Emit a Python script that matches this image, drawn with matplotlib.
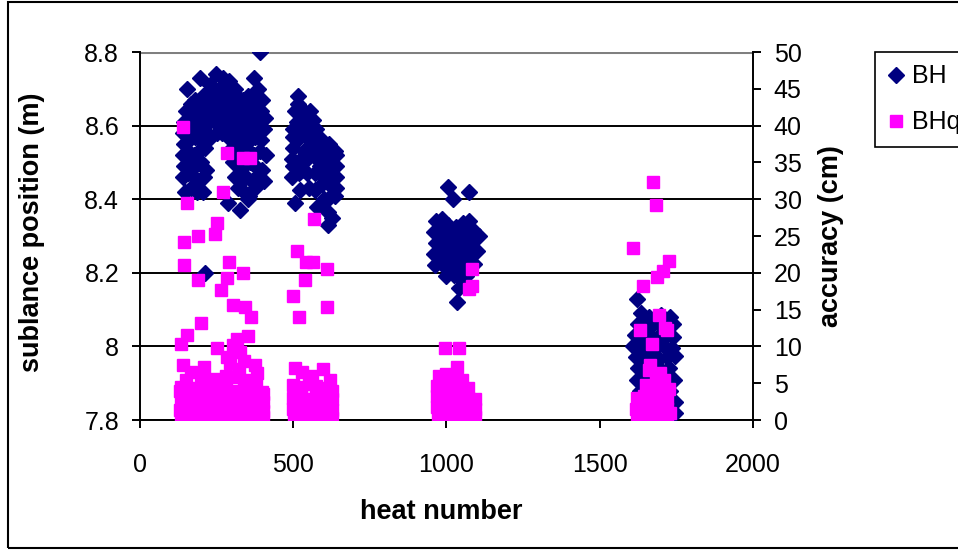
import numpy as np
import matplotlib
matplotlib.use("Agg")
import matplotlib.pyplot as plt
from matplotlib.patches import Rectangle

plt.rcParams['font.family'] = ['Liberation Sans', 'DejaVu Sans']

# BH: sublance position (m) per heat number
bh_group1 = [(392, 8.80), (195, 8.73), (249, 8.74), (152, 8.70), (371, 8.73), (384, 8.70), (290, 8.72), (270, 8.73),
             (230, 8.71), (310, 8.70), (205, 8.68), (222, 8.69), (240, 8.70), (258, 8.70), (280, 8.71), (300, 8.69),
             (318, 8.68), (335, 8.67), (352, 8.68), (368, 8.67), (200, 8.65), (218, 8.66), (236, 8.67), (254, 8.67),
             (272, 8.68), (290, 8.67), (308, 8.66), (326, 8.65), (344, 8.64), (362, 8.65), (380, 8.66), (398, 8.67),
             (165, 8.66), (180, 8.67), (150, 8.64), (145, 8.61), (162, 8.62), (178, 8.63), (196, 8.62), (214, 8.63),
             (232, 8.64), (250, 8.64), (268, 8.65), (286, 8.64), (304, 8.63), (322, 8.62), (340, 8.61), (358, 8.62),
             (376, 8.63), (394, 8.64), (408, 8.62), (140, 8.58), (156, 8.59), (172, 8.60), (190, 8.59), (208, 8.60),
             (226, 8.61), (244, 8.61), (262, 8.62), (280, 8.61), (298, 8.60), (316, 8.59), (334, 8.58), (352, 8.59),
             (370, 8.60), (388, 8.61), (405, 8.59), (142, 8.55), (160, 8.56), (178, 8.57), (196, 8.56), (214, 8.57),
             (232, 8.57), (250, 8.58), (268, 8.58), (286, 8.57), (304, 8.57), (322, 8.56), (340, 8.55), (358, 8.56),
             (376, 8.57), (396, 8.56), (140, 8.52), (158, 8.53), (176, 8.52), (194, 8.53), (212, 8.54), (300, 8.54),
             (318, 8.53), (336, 8.52), (354, 8.53), (372, 8.52), (392, 8.53), (410, 8.52), (145, 8.49), (163, 8.50),
             (181, 8.49), (199, 8.50), (214, 8.48), (305, 8.50), (322, 8.49), (340, 8.49), (358, 8.50), (376, 8.49),
             (398, 8.48), (140, 8.46), (158, 8.47), (176, 8.46), (194, 8.45), (210, 8.46), (310, 8.46), (328, 8.45),
             (346, 8.46), (364, 8.45), (382, 8.46), (404, 8.45), (146, 8.42), (168, 8.43), (186, 8.42), (204, 8.42),
             (320, 8.43), (338, 8.42), (356, 8.41), (374, 8.43), (286, 8.39), (325, 8.37), (352, 8.40), (212, 8.20)]
bh_group2 = [(516, 8.68), (517, 8.66), (505, 8.64), (530, 8.645), (554, 8.64), (565, 8.615), (511, 8.61), (540, 8.62),
             (498, 8.59), (525, 8.595), (550, 8.60), (575, 8.59), (500, 8.57), (520, 8.565), (545, 8.57), (572, 8.57),
             (595, 8.56), (618, 8.55), (500, 8.54), (534, 8.53), (560, 8.54), (585, 8.535), (609, 8.543), (635, 8.53),
             (495, 8.51), (515, 8.50), (545, 8.51), (570, 8.515), (595, 8.51), (620, 8.51), (641, 8.52), (500, 8.49),
             (530, 8.48), (587, 8.49), (610, 8.49), (630, 8.49), (641, 8.49), (495, 8.46), (520, 8.47), (544, 8.47),
             (570, 8.47), (590, 8.465), (609, 8.46), (630, 8.46), (641, 8.46), (522, 8.425), (550, 8.43), (572, 8.425),
             (595, 8.44), (618, 8.44), (638, 8.43), (506, 8.39), (576, 8.38), (600, 8.40), (620, 8.405), (635, 8.41),
             (614, 8.366), (625, 8.35), (614, 8.33)]
bh_group3 = [(1006, 8.433), (1074, 8.42), (1022, 8.40), (965, 8.34), (985, 8.345), (1005, 8.33), (1030, 8.325),
             (1055, 8.335), (1075, 8.34), (960, 8.31), (980, 8.32), (1000, 8.30), (1020, 8.31), (1040, 8.305),
             (1060, 8.30), (1085, 8.315), (1105, 8.30), (965, 8.28), (985, 8.285), (1005, 8.27), (1025, 8.28),
             (1045, 8.275), (1068, 8.28), (1090, 8.29), (1100, 8.26), (958, 8.25), (978, 8.255), (998, 8.24),
             (1018, 8.25), (1038, 8.245), (1060, 8.25), (1082, 8.255), (962, 8.22), (985, 8.225), (1005, 8.21),
             (1028, 8.22), (1048, 8.215), (1070, 8.22), (1090, 8.225), (1000, 8.19), (1025, 8.195), (1045, 8.185),
             (1065, 8.19), (1040, 8.16), (1060, 8.17), (1033, 8.12)]
bh_group4 = [(1622, 8.13), (1635, 8.09), (1660, 8.08), (1700, 8.085), (1729, 8.08), (1625, 8.06), (1650, 8.065),
             (1675, 8.06), (1700, 8.055), (1722, 8.05), (1740, 8.06), (1615, 8.03), (1640, 8.035), (1665, 8.03),
             (1690, 8.025), (1715, 8.03), (1738, 8.025), (1610, 8.00), (1635, 8.005), (1660, 8.00), (1685, 7.995),
             (1710, 8.00), (1735, 7.995), (1618, 7.97), (1642, 7.975), (1668, 7.97), (1692, 7.965), (1718, 7.97),
             (1745, 7.975), (1625, 7.94), (1650, 7.945), (1675, 7.94), (1700, 7.935), (1725, 7.94), (1620, 7.91),
             (1645, 7.915), (1670, 7.91), (1695, 7.905), (1720, 7.91), (1742, 7.91), (1630, 7.88), (1655, 7.885),
             (1680, 7.88), (1705, 7.875), (1730, 7.88), (1640, 7.85), (1690, 7.85), (1746, 7.85), (1746, 7.82),
             (1720, 7.83)]

# BHq: accuracy (cm) per heat number
bhq_group1 = [(139, 39.8), (283, 36.3), (336, 35.6), (359, 35.6), (270, 31.0), (152, 29.5), (250, 26.8), (245, 25.3),
              (190, 25.0), (144, 24.2), (144, 21.1), (190, 19.0), (291, 21.4), (337, 20.0), (285, 19.3), (264, 17.7),
              (304, 15.6), (343, 15.4), (362, 14.0), (198, 13.2), (152, 11.5), (133, 10.3), (353, 11.4), (317, 11.0),
              (304, 10.2), (250, 9.8), (283, 8.6), (326, 9.3), (295, 7.8), (340, 8.0), (139, 7.5), (209, 7.2),
              (165, 6.5), (375, 7.5), (381, 6.4), (322, 6.9), (133, 4.5), (397, 3.8),
              (150, 5.5), (200, 5.8), (240, 5.6), (280, 6.0), (315, 5.8), (350, 5.5), (380, 5.2),
              (130, 4.0), (160, 4.3), (190, 4.2), (220, 4.4), (250, 4.1), (280, 4.3), (310, 4.0), (340, 4.4),
              (370, 4.1), (400, 3.5), (135, 2.8), (165, 2.6), (195, 2.9), (225, 2.7), (255, 3.0), (285, 2.8),
              (315, 2.7), (345, 2.9), (375, 2.6), (402, 2.5), (130, 1.4), (160, 1.5), (190, 1.3), (220, 1.6),
              (250, 1.4), (280, 1.5), (310, 1.3), (340, 1.6), (370, 1.4), (400, 1.2), (135, 0.4), (165, 0.5),
              (195, 0.3), (225, 0.5), (255, 0.4), (285, 0.3), (315, 0.5), (345, 0.4), (375, 0.3), (402, 0.4)]
bhq_group2 = [(511, 23.0), (543, 21.4), (565, 21.4), (609, 20.5), (538, 19.0), (498, 16.8), (609, 15.4), (519, 14.0),
              (569, 27.3), (506, 7.1), (597, 6.9), (530, 6.5), (560, 6.0), (620, 5.5), (500, 4.8), (525, 4.5),
              (550, 4.9), (575, 4.6), (600, 4.4), (625, 4.0), (500, 3.0), (525, 3.2), (550, 2.9), (575, 3.1),
              (600, 3.0), (625, 2.8), (500, 1.5), (525, 1.7), (550, 1.4), (575, 1.6), (600, 1.5), (625, 1.3),
              (502, 0.4), (527, 0.5), (552, 0.3), (577, 0.5), (602, 0.4), (627, 0.3)]
bhq_group3 = [(1083, 20.5), (1083, 18.2), (1075, 17.8), (995, 9.8), (1041, 9.8), (1035, 7.2), (975, 6.0), (1000, 6.2),
              (1025, 5.8), (1050, 5.5), (970, 4.6), (995, 4.8), (1020, 4.5), (1045, 4.7), (1070, 4.3), (970, 3.2),
              (995, 3.0), (1020, 3.3), (1045, 3.1), (1070, 3.0), (1092, 2.8), (970, 1.7), (995, 1.6), (1020, 1.8),
              (1045, 1.5), (1070, 1.7), (1092, 1.5), (972, 0.4), (997, 0.5), (1022, 0.3), (1047, 0.5), (1072, 0.4),
              (1092, 0.4)]
bhq_group4 = [(1608, 23.4), (1675, 32.4), (1682, 29.2), (1727, 21.6), (1707, 20.2), (1688, 19.4), (1642, 18.2),
              (1694, 14.3), (1631, 12.2), (1713, 12.5), (1718, 12.2), (1669, 10.3), (1664, 7.5), (1697, 6.4),
              (1660, 6.8), (1685, 6.0), (1710, 5.5), (1650, 4.8), (1675, 4.5), (1700, 4.9), (1725, 4.2),
              (1620, 3.0), (1645, 3.2), (1670, 2.9), (1695, 3.1), (1720, 3.0), (1618, 1.5), (1643, 1.7),
              (1668, 1.4), (1693, 1.6), (1718, 1.5), (1728, 1.0), (1620, 0.4), (1645, 0.5), (1670, 0.3),
              (1695, 0.5), (1720, 0.4)]

left_ticks = [7.8, 8.0, 8.2, 8.4, 8.6, 8.8]
left_labels = ['7.8', '8', '8.2', '8.4', '8.6', '8.8']
right_ticks = [0, 5, 10, 15, 20, 25, 30, 35, 40, 45, 50]
x_ticks = [0, 500, 1000, 1500, 2000]

bh = np.array(bh_group1 + bh_group2 + bh_group3 + bh_group4)
bhq = np.array(bhq_group1 + bhq_group2 + bhq_group3 + bhq_group4)

W, H = 958, 550
fig = plt.figure(figsize=(W / 100, H / 100), dpi=100)
ax = fig.add_axes([140 / W, 1 - 420 / H, 613 / W, 368 / H])
ax2 = ax.twinx()

navy = '#000080'
pink = '#FF00FF'
fs = 18
lfs = 19.5

ax.plot(bh[:, 0], bh[:, 1], linestyle='none', marker='D', ms=8, color=navy, mec=navy, label='BH', zorder=3)
ax2.plot(bhq[:, 0], bhq[:, 1], linestyle='none', marker='s', ms=8.3, color=pink, mec=pink, label='BHq')

ax.set_xlim(0, 2000)
ax.set_ylim(7.8, 8.8)
ax2.set_ylim(0, 50)
ax.set_xticks(x_ticks)
ax.set_yticks(left_ticks)
ax.set_yticklabels(left_labels)
ax2.set_yticks(right_ticks)

ax.set_axisbelow(True)
ax.yaxis.grid(True, color='black', lw=1.4)
for s in ['top', 'right']:
    ax.spines[s].set_visible(False)
for s in ['top', 'left', 'bottom']:
    ax2.spines[s].set_visible(False)
ax.axhline(8.8, color='#808080', lw=2.2, zorder=1)
for sp in [ax.spines['left'], ax.spines['bottom'], ax2.spines['right']]:
    sp.set_linewidth(1.4)

ax.tick_params(axis='y', labelsize=fs, length=6, width=1.4, direction='out', pad=9)
ax.tick_params(axis='x', labelsize=fs, length=6, width=1.4, direction='out', pad=18)
ax2.tick_params(axis='y', labelsize=fs, length=6, width=1.4, direction='out', pad=9)

ax.set_xlabel('heat number', fontsize=lfs, fontweight='bold')
ax.set_ylabel('sublance position (m)', fontsize=lfs, fontweight='bold', va='center')
ax2.set_ylabel('accuracy (cm)', fontsize=lfs, fontweight='bold', va='center', rotation=90)
ax.yaxis.set_label_coords(-0.176, 0.51)
ax2.yaxis.set_label_coords(1.128, 0.5)
ax.xaxis.set_label_coords(0.492, -0.215)

h1, l1 = ax.get_legend_handles_labels()
h2, l2 = ax2.get_legend_handles_labels()
leg = fig.legend(h1 + h2, l1 + l2, loc='upper left', bbox_to_anchor=(875 / W, 1 - 52 / H),
                 fontsize=fs, frameon=True, fancybox=False, edgecolor='black', framealpha=1,
                 borderaxespad=0, handlelength=0.7, handletextpad=0.3, labelspacing=0.88, borderpad=0.5)
leg.get_frame().set_linewidth(1.2)

fig.patches.append(Rectangle((8 / W, 2 / H), 1.0, 546 / H, transform=fig.transFigure,
                             fill=False, edgecolor='black', lw=1.5))

fig.savefig('out.png', dpi=100)
